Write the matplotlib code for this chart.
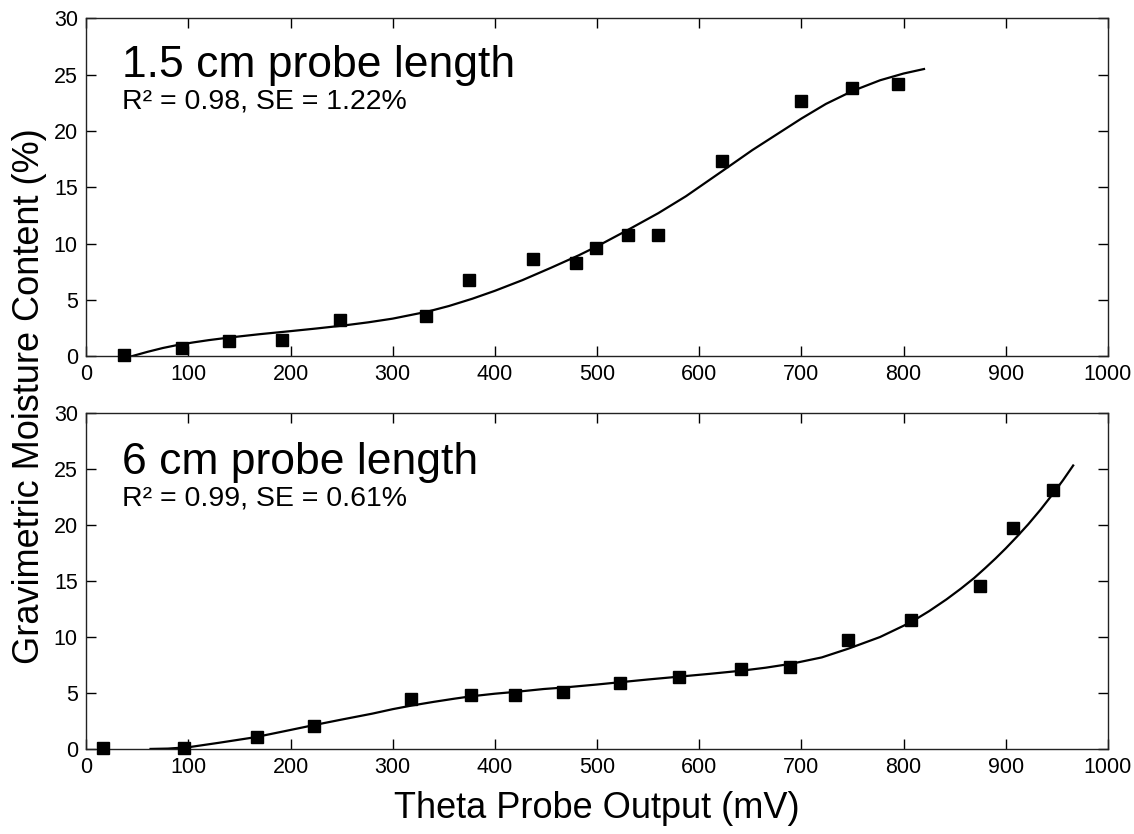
import matplotlib
matplotlib.use("Agg")
import matplotlib.pyplot as plt

plt.rcParams['font.family'] = ['Liberation Sans', 'DejaVu Sans']

# 1.5 cm probe: measured points and fitted curve
top_mv = [37, 94, 140, 192, 248, 333, 375, 437, 479, 499, 530, 560, 622, 700, 750, 795]
top_gmc = [0.1, 0.7, 1.35, 1.4, 3.2, 3.6, 6.75, 8.6, 8.25, 9.6, 10.8, 10.75, 17.3, 22.7, 23.85, 24.2]
top_fit_mv = [45, 60, 75, 90, 105, 120, 140, 170, 198, 225, 252, 276, 300, 334, 355, 378, 400,
              427, 455, 482, 500, 530, 560, 587, 622, 652, 676, 700, 724, 750, 777, 800, 820]
top_fit_gmc = [0, 0.38, 0.72, 1.0, 1.22, 1.42, 1.65, 1.95, 2.2, 2.45, 2.72, 3.0, 3.33, 3.95, 4.45,
               5.1, 5.8, 6.75, 7.85, 8.95, 9.75, 11.2, 12.7, 14.2, 16.4, 18.3, 19.7, 21.1, 22.4,
               23.55, 24.5, 25.1, 25.5]

# 6 cm probe: measured points and fitted curve
bot_mv = [16, 96, 167, 223, 318, 377, 420, 467, 522, 580, 641, 689, 746, 807, 875, 907, 946]
bot_gmc = [0.1, 0.05, 1.07, 2.08, 4.46, 4.85, 4.8, 5.06, 5.86, 6.4, 7.16, 7.34, 9.7, 11.48, 14.5, 19.76, 23.1]
bot_fit_mv = [63, 80, 100, 130, 165, 195, 223, 250, 280, 300, 319, 340, 360, 377, 400, 421, 448,
              466, 500, 522, 550, 580, 610, 641, 665, 690, 720, 746, 777, 807, 825, 842, 856,
              869, 880, 890, 900, 911, 922, 934, 946, 956, 966]
bot_fit_gmc = [0, 0.03, 0.15, 0.55, 1.04, 1.6, 2.13, 2.62, 3.15, 3.55, 3.88, 4.2, 4.48, 4.7, 4.93,
               5.1, 5.35, 5.47, 5.75, 5.95, 6.2, 6.45, 6.7, 6.98, 7.25, 7.6, 8.17, 8.95, 9.99,
               11.3, 12.3, 13.35, 14.3, 15.25, 16.15, 17.0, 17.9, 18.95, 20.05, 21.35, 22.75,
               23.98, 25.3]

titles = ["1.5 cm probe length", "6 cm probe length"]
stats = ["R\u00b2 = 0.98, SE = 1.22%", "R\u00b2 = 0.99, SE = 0.61%"]
title_y = [0.825, 0.818]
stats_y = [0.732, 0.725]

fig = plt.figure(figsize=(11.34, 8.34), dpi=100)
ax1 = fig.add_axes([0.076, 0.573, 0.901, 0.405])
ax2 = fig.add_axes([0.076, 0.102, 0.901, 0.403])

panels = [(ax1, top_mv, top_gmc, top_fit_mv, top_fit_gmc),
          (ax2, bot_mv, bot_gmc, bot_fit_mv, bot_fit_gmc)]

for i, (ax, mv, gmc, fmv, fgmc) in enumerate(panels):
    ax.plot(fmv, fgmc, color="black", lw=1.6, zorder=2, solid_joinstyle="round")
    ax.plot(mv, gmc, "s", color="black", markersize=9, zorder=3, clip_on=False)
    ax.set_xlim(0, 1000)
    ax.set_ylim(0, 30)
    ax.set_xticks(range(0, 1001, 100))
    ax.set_yticks(range(0, 31, 5))
    ax.tick_params(direction="in", length=7, width=1, top=True, right=True,
                   labelsize=15.5, pad=6)
    for sp in ax.spines.values():
        sp.set_linewidth(1)
        sp.set_color("#222222")
    ax.text(0.035, title_y[i], titles[i], transform=ax.transAxes, fontsize=32)
    ax.text(0.035, stats_y[i], stats[i], transform=ax.transAxes, fontsize=20.5)

ax2.set_xlabel("Theta Probe Output (mV)", fontsize=26, labelpad=9)
fig.text(0.026, 0.525, "Gravimetric Moisture Content (%)", rotation=90,
         ha="center", va="center", fontsize=26)

fig.savefig("out.png", dpi=100)
